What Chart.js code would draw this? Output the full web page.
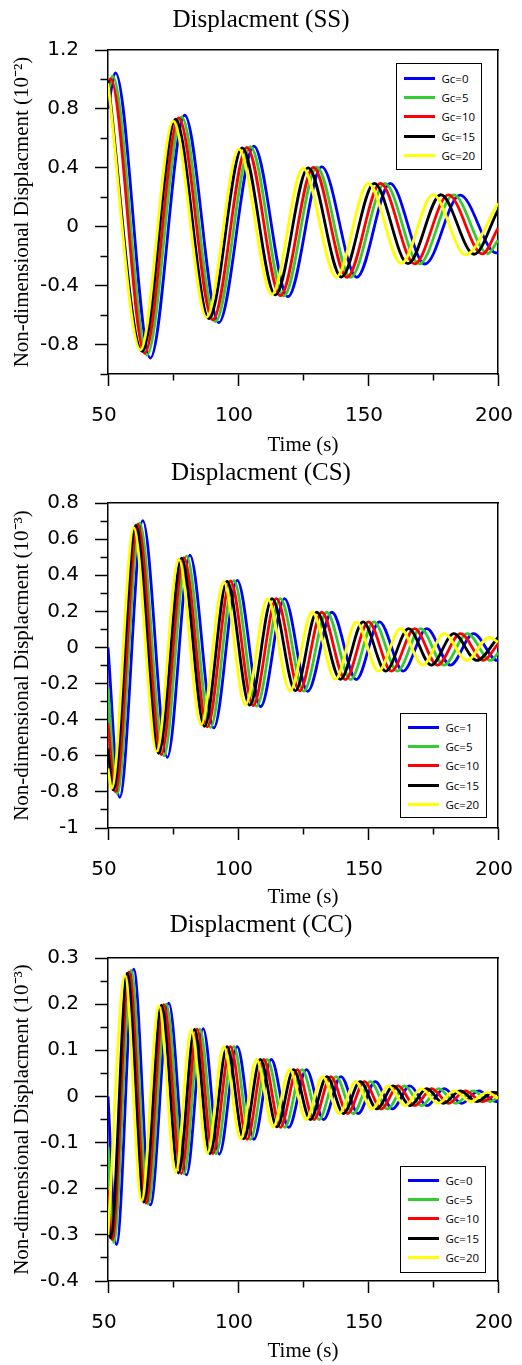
<!DOCTYPE html>
<html><head><meta charset="utf-8">
<script src="https://cdn.jsdelivr.net/npm/chart.js@4.4.0/dist/chart.umd.min.js"></script>
<style>
html,body{margin:0;padding:0;background:#fff;}
body{width:522px;height:1365px;position:relative;overflow:hidden;}
canvas{position:absolute;left:0;}
.legend{position:absolute;box-sizing:border-box;border:1.5px solid #000;background:#fff;font-family:'Open Sans',sans-serif;font-size:11.5px;color:#000;}
.legend .row{height:19.2px;display:flex;align-items:center;white-space:nowrap;}
.legend .sw{display:inline-block;width:31px;height:3px;margin-left:6.5px;margin-right:7px;}
</style></head><body>
<canvas id="c1"></canvas>
<canvas id="c2"></canvas>
<canvas id="c3"></canvas>
<script>
// ---------- tick values ----------
const xMajor = [50, 100, 150, 200];
const xMinor = [75, 125, 175];
const ssYMajor = [-0.8, -0.4, 0, 0.4, 0.8, 1.2];
const ssYMinor = [-1.0, -0.6, -0.2, 0.2, 0.6, 1.0];
const csYMajor = [-1, -0.8, -0.6, -0.4, -0.2, 0, 0.2, 0.4, 0.6, 0.8];
const csYMinor = [-0.9, -0.7, -0.5, -0.3, -0.1, 0.1, 0.3, 0.5, 0.7];
const ccYMajor = [-0.4, -0.3, -0.2, -0.1, 0, 0.1, 0.2, 0.3];
const ccYMinor = [-0.35, -0.25, -0.15, -0.05, 0.05, 0.15, 0.25];

// ---------- series labels ----------
const ssLabels = ['Gc=0', 'Gc=5', 'Gc=10', 'Gc=15', 'Gc=20'];
const csLabels = ['Gc=1', 'Gc=5', 'Gc=10', 'Gc=15', 'Gc=20'];
const ccLabels = ['Gc=0', 'Gc=5', 'Gc=10', 'Gc=15', 'Gc=20'];

// ---------- SS data (time s, displacement x1e-2) ----------
const ssT0  = [50, 52.9, 66.3, 79.5, 92.6, 106.1, 119.2, 132.2, 145.7, 158.5, 171.9, 185.4, 199.3, 200];
const ssV0  = [0.80, 1.044, -0.892, 0.757, -0.651, 0.547, -0.475, 0.407, -0.343, 0.294, -0.253, 0.215, -0.178, -0.177];
const ssT5  = [50, 51.8, 65.0, 78.3, 91.3, 104.8, 117.6, 130.3, 143.3, 156.5, 169.7, 182.9, 196.1, 200];
const ssV5  = [0.89, 1.022, -0.870, 0.746, -0.644, 0.543, -0.470, 0.404, -0.343, 0.294, -0.252, 0.216, -0.182, -0.09];
const ssT10 = [50, 51.0, 64.1, 77.2, 90.3, 103.4, 116.3, 129.0, 141.9, 154.8, 167.9, 180.9, 194.0, 200];
const ssV10 = [0.95, 1.006, -0.859, 0.739, -0.633, 0.538, -0.468, 0.403, -0.343, 0.294, -0.252, 0.216, -0.185, -0.01];
const ssT15 = [50, 63.2, 76.0, 88.8, 101.6, 114.4, 127.0, 139.8, 152.4, 165.4, 178.0, 190.8, 200];
const ssV15 = [0.995, -0.847, 0.730, -0.624, 0.536, -0.463, 0.400, -0.342, 0.294, -0.251, 0.217, -0.187, 0.113];
const ssT20 = [50, 62.5, 75.1, 87.9, 100.3, 113.0, 125.0, 137.8, 150.1, 162.8, 175.0, 187.5, 200];
const ssV20 = [0.975, -0.836, 0.717, -0.615, 0.527, -0.459, 0.396, -0.341, 0.294, -0.250, 0.218, -0.190, 0.160];

// ---------- CS data (x1e-3) ----------
const csT1  = [50, 54.5, 63.4, 72.8, 81.5, 90.7, 99.7, 108.7, 117.9, 126.8, 136.1, 145.5, 154.4, 163.5, 172.6, 181.7, 190.6, 199.7, 200];
const csV1  = [0.0, -0.830, 0.702, -0.609, 0.511, -0.446, 0.372, -0.328, 0.270, -0.243, 0.195, -0.178, 0.142, -0.131, 0.104, -0.098, 0.076, -0.072, -0.072];
const csT5  = [50, 53.5, 62.2, 71.5, 80.2, 89.4, 98.4, 107.1, 116.3, 125.3, 134.1, 143.3, 152.3, 161.3, 170.2, 179.2, 188.2, 197.2, 200];
const csV5  = [-0.23, -0.810, 0.690, -0.600, 0.506, -0.443, 0.370, -0.325, 0.270, -0.242, 0.195, -0.178, 0.142, -0.131, 0.104, -0.098, 0.076, -0.072, -0.03];
const csT10 = [50, 52.8, 61.5, 70.5, 79.2, 88.2, 97.1, 105.8, 114.8, 123.7, 132.2, 141.3, 150.2, 159.0, 167.9, 176.7, 185.6, 194.4, 200];
const csV10 = [-0.42, -0.800, 0.683, -0.594, 0.498, -0.440, 0.368, -0.322, 0.270, -0.241, 0.195, -0.178, 0.142, -0.131, 0.104, -0.098, 0.076, -0.072, 0.02];
const csT15 = [50, 52.0, 60.7, 69.5, 78.3, 87.1, 95.8, 104.5, 113.1, 122.1, 130.3, 139.4, 148.1, 156.8, 165.6, 174.3, 183.0, 191.8, 200];
const csV15 = [-0.56, -0.790, 0.676, -0.587, 0.495, -0.437, 0.366, -0.320, 0.270, -0.240, 0.195, -0.177, 0.142, -0.131, 0.104, -0.098, 0.076, -0.072, 0.055];
const csT20 = [50, 51.4, 59.9, 68.7, 77.2, 85.8, 94.5, 102.8, 111.4, 120.0, 128.5, 137.5, 145.5, 154.0, 162.5, 171.0, 179.3, 188.0, 196.5, 200];
const csV20 = [-0.67, -0.780, 0.663, -0.576, 0.489, -0.428, 0.363, -0.317, 0.270, -0.240, 0.195, -0.176, 0.142, -0.131, 0.104, -0.098, 0.076, -0.072, 0.055, 0.03];

// ---------- CC data (x1e-3) ----------
const ccT0  = [50, 53.3, 59.9, 66.3, 73.4, 80.2, 86.6, 92.8, 99.7, 106.1, 112.8, 119.5, 126.3, 132.9, 139.6, 146.2, 152.8, 159.4, 166.1, 172.7, 179.3, 186.0, 192.6, 199.2, 200];
const ccV0  = [0.0, -0.321, 0.276, -0.235, 0.202, -0.170, 0.147, -0.125, 0.108, -0.093, 0.080, -0.067, 0.058, -0.050, 0.043, -0.037, 0.032, -0.027, 0.023, -0.020, 0.017, -0.015, 0.012, -0.011, -0.011];
const ccT5  = [50, 52.2, 58.9, 65.4, 72.4, 79.2, 85.3, 91.5, 98.4, 104.8, 111.2, 118.0, 124.6, 131.2, 137.7, 144.3, 150.9, 157.5, 164.1, 170.6, 177.2, 183.8, 190.4, 197.0, 200];
const ccV5  = [-0.109, -0.316, 0.273, -0.233, 0.200, -0.168, 0.146, -0.124, 0.108, -0.093, 0.080, -0.067, 0.058, -0.050, 0.043, -0.037, 0.032, -0.027, 0.023, -0.020, 0.017, -0.015, 0.012, -0.011, -0.002];
const ccT10 = [50, 51.6, 58.1, 64.6, 71.5, 78.2, 84.3, 90.3, 97.1, 103.5, 109.9, 116.3, 122.8, 129.2, 135.7, 142.2, 148.6, 155.1, 161.6, 168.0, 174.5, 181.0, 187.4, 193.9, 200];
const ccV10 = [-0.203, -0.311, 0.270, -0.231, 0.199, -0.167, 0.146, -0.124, 0.108, -0.093, 0.080, -0.067, 0.058, -0.050, 0.043, -0.037, 0.032, -0.027, 0.023, -0.020, 0.017, -0.015, 0.012, -0.011, 0.009];
const ccT15 = [50, 51.0, 57.4, 63.8, 70.6, 77.1, 83.3, 89.2, 95.8, 102.2, 108.6, 115.0, 121.4, 127.8, 134.2, 140.6, 147.0, 153.4, 159.8, 166.2, 172.6, 179.0, 185.4, 191.8, 198.2, 200];
const ccV15 = [-0.264, -0.307, 0.267, -0.229, 0.198, -0.166, 0.145, -0.124, 0.108, -0.092, 0.080, -0.066, 0.058, -0.050, 0.043, -0.037, 0.032, -0.027, 0.023, -0.020, 0.017, -0.015, 0.012, -0.011, 0.009, 0.008];
const ccT20 = [50, 56.5, 62.9, 69.6, 76.0, 82.0, 88.2, 94.5, 101.0, 107.1, 113.5, 119.9, 126.2, 132.5, 138.9, 145.2, 151.5, 157.9, 164.2, 170.5, 176.9, 183.2, 189.5, 195.9, 200];
const ccV20 = [-0.300, 0.263, -0.226, 0.196, -0.165, 0.144, -0.123, 0.108, -0.092, 0.080, -0.066, 0.058, -0.050, 0.043, -0.037, 0.032, -0.027, 0.023, -0.020, 0.017, -0.015, 0.012, -0.011, 0.009, -0.004];

// ---------- styles / layout (not data) ----------
const seriesColors = ['#0000ff', '#33cc33', '#ff0000', '#000000', '#ffff00'];
const SERIF = "'Liberation Serif', 'Times New Roman', serif";
const SANS = "'DejaVu Sans', Verdana, sans-serif";

const panels = [
  { id: 'c1', title: 'Displacment (SS)', yTitle: 'Non-dimensional Displacment (10\u207B\u00B2)',
    yMin: -1, yMax: 1.2, yMajor: ssYMajor, yMinor: ssYMinor, labels: ssLabels,
    times: [ssT0, ssT5, ssT10, ssT15, ssT20], values: [ssV0, ssV5, ssV10, ssV15, ssV20],
    canvasTop: 0, canvasH: 458, plotTop: 50, plotBottom: 374,
    legendBox: { left: 396, top: 63, w: 86, h: 107, pad: 5 } },
  { id: 'c2', title: 'Displacment (CS)', yTitle: 'Non-dimensional Displacment (10\u207B\u00B3)',
    yMin: -1, yMax: 0.8, yMajor: csYMajor, yMinor: csYMinor, labels: csLabels,
    times: [csT1, csT5, csT10, csT15, csT20], values: [csV1, csV5, csV10, csV15, csV20],
    canvasTop: 453, canvasH: 457, plotTop: 503, plotBottom: 828,
    legendBox: { left: 400, top: 713, w: 87, h: 105, pad: 4 } },
  { id: 'c3', title: 'Displacment (CC)', yTitle: 'Non-dimensional Displacment (10\u207B\u00B3)',
    yMin: -0.4, yMax: 0.3, yMajor: ccYMajor, yMinor: ccYMinor, labels: ccLabels,
    times: [ccT0, ccT5, ccT10, ccT15, ccT20], values: [ccV0, ccV5, ccV10, ccV15, ccV20],
    canvasTop: 905, canvasH: 459, plotTop: 958, plotBottom: 1281,
    legendBox: { left: 400, top: 1166, w: 86, h: 107, pad: 4 } }
];

function tickSetter(major, minor) {
  return (scale) => {
    scale.ticks = major.concat(minor).sort((a, b) => a - b).map(v => ({ value: v }));
  };
}

function buildLegend(chart, box) {
  const div = document.createElement('div');
  div.className = 'legend';
  Object.assign(div.style, { left: box.left + 'px', top: box.top + 'px', width: box.w + 'px', height: box.h + 'px', paddingTop: box.pad + 'px' });
  chart.data.datasets.forEach(ds => {
    const row = document.createElement('div'); row.className = 'row';
    const sw = document.createElement('span'); sw.className = 'sw'; sw.style.background = ds.borderColor;
    const tx = document.createElement('span'); tx.textContent = ds.label;
    row.append(sw, tx); div.append(row);
  });
  document.body.append(div);
}

function makeChart(p) {
  const canvas = document.getElementById(p.id);
  canvas.width = 522; canvas.height = p.canvasH;
  canvas.style.top = p.canvasTop + 'px';
  canvas.style.width = '522px'; canvas.style.height = p.canvasH + 'px';

  const datasets = p.labels.map((lab, i) => ({
    label: lab,
    data: p.times[i].map((t, k) => ({ x: t, y: p.values[i][k] })),
    borderColor: seriesColors[i], backgroundColor: seriesColors[i],
    borderWidth: 2.8, pointRadius: 0, fill: false,
    cubicInterpolationMode: 'monotone', order: 5 - i,
    xAxisID: 'x', yAxisID: 'y'
  }));

  const isXMajor = (ctx) => ctx.tick && xMajor.includes(ctx.tick.value);
  const isYMajor = (ctx) => ctx.tick && p.yMajor.includes(ctx.tick.value);

  const chart = new Chart(canvas, {
    type: 'line',
    data: { datasets },
    options: {
      responsive: false, animation: false, devicePixelRatio: 1, events: [],
      layout: { padding: 0 },
      plugins: {
        legend: { display: false }, tooltip: { enabled: false },
        title: { display: true, text: p.title, color: '#000',
          font: { family: SERIF, size: 25, weight: 'normal', lineHeight: 1.2 },
          padding: { top: 5, bottom: p.plotTop - p.canvasTop - 35 } }
      },
      scales: {
        x: {
          type: 'linear', axis: 'x', position: 'bottom', min: 50, max: 200,
          afterBuildTicks: tickSetter(xMajor, xMinor),
          afterFit: (s) => { s.height = p.canvasTop + p.canvasH - p.plotBottom; s.paddingLeft = 0; s.paddingRight = 0; },
          ticks: { autoSkip: false, maxRotation: 0, minRotation: 0, padding: 18, labelOffset: -4,
            color: '#000', font: { family: SANS, size: 20 },
            callback: (v) => xMajor.includes(v) ? String(v) : '' },
          grid: { drawOnChartArea: false, drawTicks: true, tickLength: 12, tickWidth: 1.5, tickColor: '#000',
            tickBorderDash: (ctx) => isXMajor(ctx) ? [] : [6, 20] },
          border: { display: true, color: '#000', width: 1.5 },
          title: { display: true, text: 'Time (s)', color: '#000',
            font: { family: SERIF, size: 21, weight: 'normal', lineHeight: 1.2 }, padding: { top: 0, bottom: 0 } }
        },
        y: {
          type: 'linear', axis: 'y', position: 'left', min: p.yMin, max: p.yMax,
          afterBuildTicks: tickSetter(p.yMajor, p.yMinor),
          afterFit: (s) => { s.width = 108; s.paddingTop = 0; s.paddingBottom = 0; },
          ticks: { autoSkip: false, padding: 16, color: '#000', font: { family: SANS, size: 20 },
            callback: (v) => p.yMajor.includes(v) ? String(v) : '' },
          grid: { drawOnChartArea: false, drawTicks: true, tickLength: 13, tickWidth: 1.5, tickColor: '#000',
            tickBorderDash: (ctx) => isYMajor(ctx) ? [] : [7, 5.5],
            tickBorderDashOffset: (ctx) => isYMajor(ctx) ? 0 : 7 },
          border: { display: true, color: '#000', width: 1.5 },
          title: { display: true, text: p.yTitle, color: '#000',
            font: { family: SERIF, size: 21, weight: 'normal', lineHeight: 1.2 }, padding: { top: 10, bottom: 0 } }
        },
        yR: {
          type: 'linear', axis: 'y', position: 'right',
          afterFit: (s) => { s.width = 24; s.paddingTop = 0; s.paddingBottom = 0; },
          ticks: { display: false }, grid: { display: false, drawTicks: false },
          border: { display: true, color: '#000', width: 1.5 }
        },
        xT: {
          type: 'linear', axis: 'x', position: 'top',
          afterFit: (s) => { s.height = 0; s.paddingLeft = 0; s.paddingRight = 0; },
          ticks: { display: false }, grid: { display: false, drawTicks: false },
          border: { display: true, color: '#000', width: 1.5 }
        }
      }
    }
  });
  buildLegend(chart, p.legendBox);
  return chart;
}

Chart.defaults.color = '#000';
panels.forEach(makeChart);
</script>
</body></html>
